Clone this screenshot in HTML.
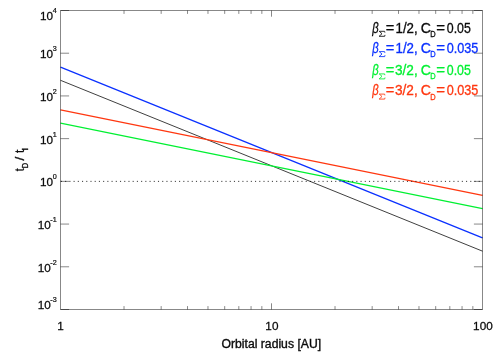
<!DOCTYPE html><html><head><meta charset="utf-8"><style>html,body{margin:0;padding:0;background:#fff}svg{display:block}text{font-family:"Liberation Sans",sans-serif;}</style></head><body>
<svg width="499" height="356" viewBox="0 0 499 356">
<rect width="499" height="356" fill="#fff"/>
<line x1="60.5" y1="80.30" x2="482.5" y2="251.16" stroke="#000" stroke-width="0.75"/>
<line x1="60.5" y1="67.07" x2="482.5" y2="237.92" stroke="#0a30ff" stroke-width="1.25"/>
<line x1="60.5" y1="123.10" x2="482.5" y2="208.53" stroke="#00f032" stroke-width="1.25"/>
<line x1="60.5" y1="109.87" x2="482.5" y2="195.30" stroke="#ff3710" stroke-width="1.25"/>
<line x1="60.9" y1="181.36" x2="482.5" y2="181.36" stroke="#000" stroke-width="0.8" stroke-dasharray="1.1 3.120"/>
<g fill="none" stroke="#000" stroke-width="0.47">
<path d="M60.5 10.5H482.5V309.5H60.5Z"/>
<path d="M60.5 309.50h8.6M482.5 309.50h-8.6"/>
<path d="M60.5 266.79h8.6M482.5 266.79h-8.6"/>
<path d="M60.5 224.07h8.6M482.5 224.07h-8.6"/>
<path d="M60.5 181.36h8.6M482.5 181.36h-8.6"/>
<path d="M60.5 138.64h8.6M482.5 138.64h-8.6"/>
<path d="M60.5 95.93h8.6M482.5 95.93h-8.6"/>
<path d="M60.5 53.21h8.6M482.5 53.21h-8.6"/>
<path d="M60.5 10.50h8.6M482.5 10.50h-8.6"/>
<path d="M271.50 309.5v-6.2M271.50 10.5v6.2"/>
<path d="M124.02 309.5v-3.4M124.02 10.5v3.4"/>
<path d="M161.17 309.5v-3.4M161.17 10.5v3.4"/>
<path d="M187.53 309.5v-3.4M187.53 10.5v3.4"/>
<path d="M207.98 309.5v-3.4M207.98 10.5v3.4"/>
<path d="M224.69 309.5v-3.4M224.69 10.5v3.4"/>
<path d="M238.82 309.5v-3.4M238.82 10.5v3.4"/>
<path d="M251.05 309.5v-3.4M251.05 10.5v3.4"/>
<path d="M261.85 309.5v-3.4M261.85 10.5v3.4"/>
<path d="M335.02 309.5v-3.4M335.02 10.5v3.4"/>
<path d="M372.17 309.5v-3.4M372.17 10.5v3.4"/>
<path d="M398.53 309.5v-3.4M398.53 10.5v3.4"/>
<path d="M418.98 309.5v-3.4M418.98 10.5v3.4"/>
<path d="M435.69 309.5v-3.4M435.69 10.5v3.4"/>
<path d="M449.82 309.5v-3.4M449.82 10.5v3.4"/>
<path d="M462.05 309.5v-3.4M462.05 10.5v3.4"/>
<path d="M472.85 309.5v-3.4M472.85 10.5v3.4"/>
</g>
<defs><filter id="f" filterUnits="userSpaceOnUse" x="0" y="0" width="499" height="356"><feOffset dx="0" dy="0"/></filter></defs>
<g filter="url(#f)">
<g fill="#0a0a0a" stroke="#0a0a0a" stroke-width="0.25">
<text transform="translate(50.7,309.30) scale(1.05,1)" font-size="11.2" text-anchor="end">10</text>
<text transform="translate(56.7,302.30) scale(1.06,1)" font-size="6.8" text-anchor="end" stroke-width="0.2">-3</text>
<text transform="translate(50.7,271.89) scale(1.05,1)" font-size="11.2" text-anchor="end">10</text>
<text transform="translate(56.7,264.89) scale(1.06,1)" font-size="6.8" text-anchor="end" stroke-width="0.2">-2</text>
<text transform="translate(50.7,229.17) scale(1.05,1)" font-size="11.2" text-anchor="end">10</text>
<text transform="translate(56.7,222.17) scale(1.06,1)" font-size="6.8" text-anchor="end" stroke-width="0.2">-1</text>
<text transform="translate(53.0,186.46) scale(1.05,1)" font-size="11.2" text-anchor="end">10</text>
<text transform="translate(56.7,179.46) scale(1.06,1)" font-size="6.8" text-anchor="end" stroke-width="0.2">0</text>
<text transform="translate(53.0,143.74) scale(1.05,1)" font-size="11.2" text-anchor="end">10</text>
<text transform="translate(56.7,136.74) scale(1.06,1)" font-size="6.8" text-anchor="end" stroke-width="0.2">1</text>
<text transform="translate(53.0,101.03) scale(1.05,1)" font-size="11.2" text-anchor="end">10</text>
<text transform="translate(56.7,94.03) scale(1.06,1)" font-size="6.8" text-anchor="end" stroke-width="0.2">2</text>
<text transform="translate(53.0,58.31) scale(1.05,1)" font-size="11.2" text-anchor="end">10</text>
<text transform="translate(56.7,51.31) scale(1.06,1)" font-size="6.8" text-anchor="end" stroke-width="0.2">3</text>
<text transform="translate(53.0,19.50) scale(1.05,1)" font-size="11.2" text-anchor="end">10</text>
<text transform="translate(56.7,12.50) scale(1.06,1)" font-size="6.8" text-anchor="end" stroke-width="0.2">4</text>
<text transform="translate(60.5,330.00) scale(1.05,1)" font-size="11.2" text-anchor="middle">1</text>
<text transform="translate(271.9,330.00) scale(1.05,1)" font-size="11.2" text-anchor="middle">10</text>
<text transform="translate(482.9,330.00) scale(1.05,1)" font-size="11.2" text-anchor="middle">100</text>
<text x="221.5" y="347.8" font-size="12" stroke-width="0.35" textLength="99.6" lengthAdjust="spacingAndGlyphs">Orbital radius [AU]</text>
</g>
<g fill="#0a0a0a" stroke="#0a0a0a" stroke-width="0.3" transform="translate(24.1,171.3) rotate(-90)">
<text transform="translate(0.05,0.00) scale(0.800,1)" font-family="Liberation Sans" font-size="13" font-style="normal">t</text>
<text transform="translate(2.99,3.40) scale(0.880,1)" font-family="Liberation Sans" font-size="8.5" font-style="normal">D</text>
<text transform="translate(10.75,0.00) scale(1.029,1)" font-family="Liberation Sans" font-size="13" font-style="normal">/</text>
<text transform="translate(18.22,0.00) scale(0.923,1)" font-family="Liberation Sans" font-size="13" font-style="normal">t</text>
<text transform="translate(20.55,3.40) scale(1.333,1)" font-family="Liberation Sans" font-size="8.5" font-style="normal">I</text>
</g>
<g fill="#0a0a0a" stroke="#0a0a0a" stroke-width="0.3">
<text transform="translate(372.25,32.60) scale(0.786,1)" font-family="Liberation Serif" font-size="14.3" font-style="italic">β</text>
<path d="M384.90 32.60L384.60 31.30H379.20L382.00 33.70L379.10 36.30H384.70L385.00 34.90" fill="none" stroke-width="0.85" stroke-linejoin="miter"/>
<text transform="translate(385.65,32.60) scale(1.062,1)" font-family="Liberation Sans" font-size="13.8" font-style="normal">=</text>
<text transform="translate(395.49,32.60) scale(0.964,1)" font-family="Liberation Sans" font-size="13.8" font-style="normal">1/2,</text>
<text transform="translate(420.68,32.60) scale(1.024,1)" font-family="Liberation Sans" font-size="13.8" font-style="normal">C</text>
<text transform="translate(430.29,36.80) scale(0.880,1)" font-family="Liberation Sans" font-size="8.5" font-style="normal">D</text>
<text transform="translate(436.33,32.60) scale(1.092,1)" font-family="Liberation Sans" font-size="13.8" font-style="normal">=</text>
<text transform="translate(446.80,32.60) scale(0.897,1)" font-family="Liberation Sans" font-size="13.8" font-style="normal">0.05</text>
</g>
<g fill="#0a30ff" stroke="#0a30ff" stroke-width="0.3">
<text transform="translate(372.25,52.90) scale(0.786,1)" font-family="Liberation Serif" font-size="14.3" font-style="italic">β</text>
<path d="M384.90 52.90L384.60 51.60H379.20L382.00 54.00L379.10 56.60H384.70L385.00 55.20" fill="none" stroke-width="0.85" stroke-linejoin="miter"/>
<text transform="translate(385.65,52.90) scale(1.062,1)" font-family="Liberation Sans" font-size="13.8" font-style="normal">=</text>
<text transform="translate(395.49,52.90) scale(0.964,1)" font-family="Liberation Sans" font-size="13.8" font-style="normal">1/2,</text>
<text transform="translate(420.68,52.90) scale(1.024,1)" font-family="Liberation Sans" font-size="13.8" font-style="normal">C</text>
<text transform="translate(430.29,57.10) scale(0.880,1)" font-family="Liberation Sans" font-size="8.5" font-style="normal">D</text>
<text transform="translate(436.33,52.90) scale(1.092,1)" font-family="Liberation Sans" font-size="13.8" font-style="normal">=</text>
<text transform="translate(446.79,52.90) scale(0.916,1)" font-family="Liberation Sans" font-size="13.8" font-style="normal">0.035</text>
</g>
<g fill="#00f032" stroke="#00f032" stroke-width="0.3">
<text transform="translate(372.25,75.20) scale(0.786,1)" font-family="Liberation Serif" font-size="14.3" font-style="italic">β</text>
<path d="M384.90 75.20L384.60 73.90H379.20L382.00 76.30L379.10 78.90H384.70L385.00 77.50" fill="none" stroke-width="0.85" stroke-linejoin="miter"/>
<text transform="translate(385.65,75.20) scale(1.062,1)" font-family="Liberation Sans" font-size="13.8" font-style="normal">=</text>
<text transform="translate(394.96,75.20) scale(0.988,1)" font-family="Liberation Sans" font-size="13.8" font-style="normal">3/2,</text>
<text transform="translate(420.68,75.20) scale(1.024,1)" font-family="Liberation Sans" font-size="13.8" font-style="normal">C</text>
<text transform="translate(430.29,79.40) scale(0.880,1)" font-family="Liberation Sans" font-size="8.5" font-style="normal">D</text>
<text transform="translate(436.33,75.20) scale(1.092,1)" font-family="Liberation Sans" font-size="13.8" font-style="normal">=</text>
<text transform="translate(446.80,75.20) scale(0.897,1)" font-family="Liberation Sans" font-size="13.8" font-style="normal">0.05</text>
</g>
<g fill="#ff3710" stroke="#ff3710" stroke-width="0.3">
<text transform="translate(372.25,95.40) scale(0.786,1)" font-family="Liberation Serif" font-size="14.3" font-style="italic">β</text>
<path d="M384.90 95.40L384.60 94.10H379.20L382.00 96.50L379.10 99.10H384.70L385.00 97.70" fill="none" stroke-width="0.85" stroke-linejoin="miter"/>
<text transform="translate(385.65,95.40) scale(1.062,1)" font-family="Liberation Sans" font-size="13.8" font-style="normal">=</text>
<text transform="translate(394.96,95.40) scale(0.988,1)" font-family="Liberation Sans" font-size="13.8" font-style="normal">3/2,</text>
<text transform="translate(420.68,95.40) scale(1.024,1)" font-family="Liberation Sans" font-size="13.8" font-style="normal">C</text>
<text transform="translate(430.29,99.60) scale(0.880,1)" font-family="Liberation Sans" font-size="8.5" font-style="normal">D</text>
<text transform="translate(436.33,95.40) scale(1.092,1)" font-family="Liberation Sans" font-size="13.8" font-style="normal">=</text>
<text transform="translate(446.79,95.40) scale(0.916,1)" font-family="Liberation Sans" font-size="13.8" font-style="normal">0.035</text>
</g>
</g>
</svg></body></html>
